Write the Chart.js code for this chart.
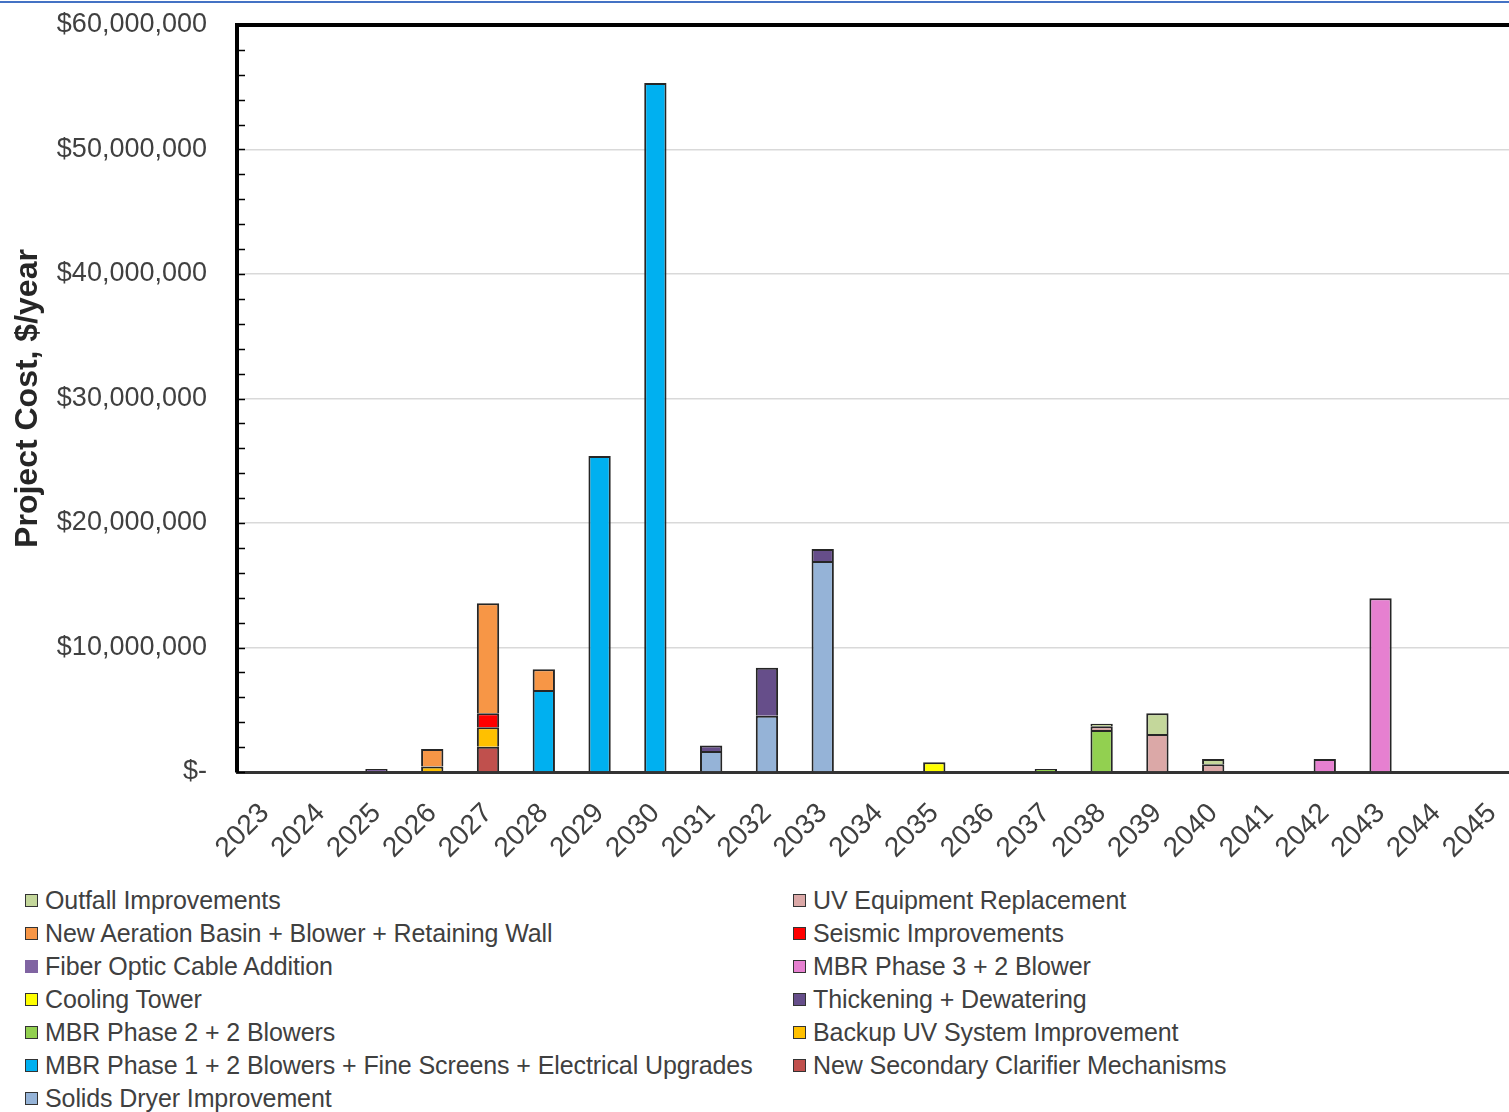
<!DOCTYPE html>
<html>
<head>
<meta charset="utf-8">
<script src="https://cdn.jsdelivr.net/npm/chart.js@4.4.1/dist/chart.umd.min.js"></script>
<style>
    html, body { margin: 0; padding: 0; background: #fff; overflow: hidden; }
    #wrap { position: relative; width: 1509px; height: 1112px; overflow: hidden; }
    #topline { position: absolute; left: 0; top: 1px; width: 1509px; height: 2px; background: #4472c4; }
    #chart { position: absolute; left: 0; top: 0; }
    #legend { position: absolute; left: 0; top: 884px; font-family: "Liberation Sans", Arial, sans-serif; font-size: 25px; color: #404040; }
    .item { position: absolute; white-space: nowrap; height: 32px; line-height: 32px; }
    .box { position: absolute; left: 0; top: 10px; width: 11px; height: 11px; border: 1.5px solid #333; }
    .txt { position: absolute; left: 20px; top: 0; letter-spacing: -0.1px; }
</style>
</head>
<body>
<div id="wrap">
    <div id="topline"></div>
    <canvas id="chart" width="1520" height="880"></canvas>
    <div id="legend"></div>
</div>
<script>
// Annual project costs ($/year)

const years = ['2023', '2024', '2025', '2026', '2027', '2028', '2029', '2030', '2031', '2032', '2033', '2034',
    '2035', '2036', '2037', '2038', '2039', '2040', '2041', '2042', '2043', '2044', '2045'];

// stacking order is bottom to top
const clarifier  = [0, 0, 0, 0, 2030000, 0, 0, 0, 0, 0, 0, 0, 0, 0, 0, 0, 0, 0, 0, 0, 0, 0, 0];
const backupUV   = [0, 0, 0, 450000, 1560000, 0, 0, 0, 0, 0, 0, 0, 0, 0, 0, 0, 0, 0, 0, 0, 0, 0, 0];
const seismic    = [0, 0, 0, 0, 1120000, 0, 0, 0, 0, 0, 0, 0, 0, 0, 0, 0, 0, 0, 0, 0, 0, 0, 0];
const mbrPhase1  = [0, 0, 0, 0, 0, 6590000, 25380000, 55340000, 0, 0, 0, 0, 0, 0, 0, 0, 0, 0, 0, 0, 0, 0, 0];
const aeration   = [0, 0, 0, 1400000, 8840000, 1660000, 0, 0, 0, 0, 0, 0, 0, 0, 0, 0, 0, 0, 0, 0, 0, 0, 0];
const solids     = [0, 0, 0, 0, 0, 0, 0, 0, 1690000, 4520000, 16950000, 0, 0, 0, 0, 0, 0, 0, 0, 0, 0, 0, 0];
const thickening = [0, 0, 0, 0, 0, 0, 0, 0, 430000, 3860000, 960000, 0, 0, 0, 0, 0, 0, 0, 0, 0, 0, 0, 0];
const cooling    = [0, 0, 0, 0, 0, 0, 0, 0, 0, 0, 0, 0, 780000, 0, 0, 0, 0, 0, 0, 0, 0, 0, 0];
const mbrPhase2  = [0, 0, 0, 0, 0, 0, 0, 0, 0, 0, 0, 0, 0, 0, 250000, 3370000, 0, 0, 0, 0, 0, 0, 0];
const uvEquip    = [0, 0, 0, 0, 0, 0, 0, 0, 0, 0, 0, 0, 0, 0, 0, 300000, 3050000, 620000, 0, 0, 0, 0, 0];
const fiberOptic = [0, 0, 250000, 0, 0, 0, 0, 0, 0, 0, 0, 0, 0, 0, 0, 0, 0, 0, 0, 0, 0, 0, 0];
const outfall    = [0, 0, 0, 0, 0, 0, 0, 0, 0, 0, 0, 0, 0, 0, 0, 200000, 1660000, 430000, 0, 0, 0, 0, 0];
const mbrPhase3  = [0, 0, 0, 0, 0, 0, 0, 0, 0, 0, 0, 0, 0, 0, 0, 0, 0, 0, 0, 1040000, 13950000, 0, 0];

const yTicks = [0, 10000000, 20000000, 30000000, 40000000, 50000000, 60000000];

const series = [
    { label: 'New Secondary Clarifier Mechanisms', data: clarifier, color: '#c0504d' },
    { label: 'Backup UV System Improvement', data: backupUV, color: '#ffc000' },
    { label: 'Seismic Improvements', data: seismic, color: '#ff0000' },
    { label: 'MBR Phase 1 + 2 Blowers + Fine Screens + Electrical Upgrades', data: mbrPhase1, color: '#00b0f0' },
    { label: 'New Aeration Basin + Blower + Retaining Wall', data: aeration, color: '#f79646' },
    { label: 'Solids Dryer Improvement', data: solids, color: '#95b3d7' },
    { label: 'Thickening + Dewatering', data: thickening, color: '#664e8a' },
    { label: 'Cooling Tower', data: cooling, color: '#ffff00' },
    { label: 'MBR Phase 2 + 2 Blowers', data: mbrPhase2, color: '#92d050' },
    { label: 'UV Equipment Replacement', data: uvEquip, color: '#dba8a7' },
    { label: 'Fiber Optic Cable Addition', data: fiberOptic, color: '#8064a2', noBox: true },
    { label: 'Outfall Improvements', data: outfall, color: '#c4d79b' },
    { label: 'MBR Phase 3 + 2 Blower', data: mbrPhase3, color: '#e680d0' }
];

// legend columns as in the reference
const legendLeft = ['Outfall Improvements', 'New Aeration Basin + Blower + Retaining Wall', 'Fiber Optic Cable Addition',
    'Cooling Tower', 'MBR Phase 2 + 2 Blowers', 'MBR Phase 1 + 2 Blowers + Fine Screens + Electrical Upgrades',
    'Solids Dryer Improvement'];
const legendRight = ['UV Equipment Replacement', 'Seismic Improvements', 'MBR Phase 3 + 2 Blower',
    'Thickening + Dewatering', 'Backup UV System Improvement', 'New Secondary Clarifier Mechanisms'];

const FONT = '"Liberation Sans", Arial, sans-serif';

// short inward ticks on the value axis + heavy top frame
const frameMarks = {
    id: 'frameMarks',
    afterDatasetsDraw(chart) {
        const { ctx, chartArea, scales } = chart;
        const y = scales.y;
        ctx.save();
        ctx.strokeStyle = '#000';
        ctx.lineWidth = 1.5;
        for (let v = 0; v <= 60000000; v += 2000000) {
            const py = Math.round(y.getPixelForValue(v)) + 0.5;
            ctx.beginPath();
            ctx.moveTo(chartArea.left, py);
            ctx.lineTo(chartArea.left + 8, py);
            ctx.stroke();
        }
        ctx.lineWidth = 4;
        ctx.beginPath();
        ctx.moveTo(chartArea.left - 2, chartArea.top);
        ctx.lineTo(chartArea.right, chartArea.top);
        ctx.stroke();
        ctx.restore();
    }
};

const chart = new Chart(document.getElementById('chart'), {
    type: 'bar',
    data: {
        labels: years,
        datasets: series.map(s => ({
            label: s.label,
            // empty years get no bar at all
            data: s.data.map(v => v === 0 ? null : v),
            backgroundColor: s.color,
            borderColor: '#262626',
            borderWidth: 2,
            borderSkipped: 'start',
            categoryPercentage: 1,
            barPercentage: 0.4
        }))
    },
    options: {
        responsive: false,
        animation: false,
        layout: { autoPadding: false, padding: { top: 25, right: 0, bottom: 0, left: 0 } },
        plugins: {
            legend: { display: false },
            tooltip: { enabled: false }
        },
        scales: {
            x: {
                stacked: true,
                afterFit: scale => {
                    scale.height = 108;
                    scale.paddingLeft = 0;
                    scale.paddingRight = 0;
                },
                grid: { display: false, drawTicks: false },
                border: { color: '#333', width: 3 },
                ticks: {
                    minRotation: 45,
                    maxRotation: 45,
                    padding: 25,
                    color: '#404040',
                    font: { family: FONT, size: 28 }
                }
            },
            y: {
                stacked: true,
                min: 0,
                max: 60000000,
                afterFit: scale => {
                    scale.width = 237;
                    scale.paddingTop = 0;
                    scale.paddingBottom = 0;
                },
                afterBuildTicks: scale => { scale.ticks = yTicks.map(v => ({ value: v })); },
                grid: { color: '#d9d9d9', lineWidth: 1.5, drawTicks: false },
                border: { color: '#000', width: 4 },
                title: {
                    display: true,
                    text: 'Project Cost, $/year',
                    color: '#262626',
                    font: { family: FONT, size: 32, weight: 'bold' },
                    padding: { top: 9, bottom: 0 }
                },
                ticks: {
                    padding: 30,
                    color: '#404040',
                    font: { family: FONT, size: 27 },
                    callback: v => v === 0 ? '$-' : '$' + v.toLocaleString('en-US')
                }
            }
        }
    },
    plugins: [frameMarks]
});

// HTML legend in two columns
function buildLegend() {
    const container = document.getElementById('legend');
    const byLabel = {};
    series.forEach(s => { byLabel[s.label] = s; });
    const html = [];
    [legendLeft, legendRight].forEach((col, c) => {
        col.forEach((name, r) => {
            const s = byLabel[name];
            const border = s.noBox ? 'border-color:transparent;' : '';
            html.push(`
                <div class="item" style="left:${c === 0 ? 25 : 793}px; top:${r * 33}px;">
                    <span class="box" style="background:${s.color};${border}"></span>
                    <span class="txt">${name}</span>
                </div>`);
        });
    });
    container.innerHTML = html.join('');
}

buildLegend();
</script>
</body>
</html>
